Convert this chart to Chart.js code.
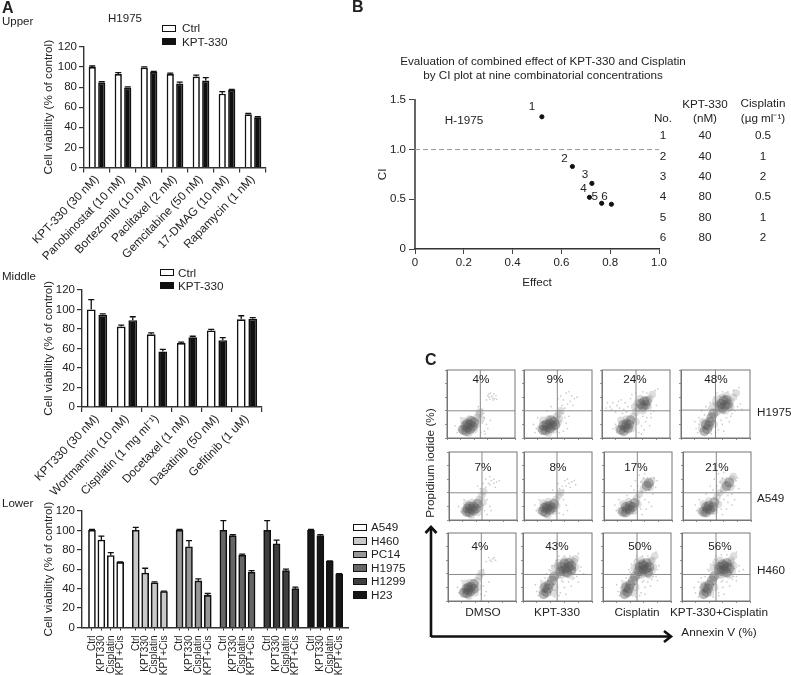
<!DOCTYPE html>
<html><head><meta charset="utf-8">
<script src="https://cdn.jsdelivr.net/npm/chart.js@4/dist/chart.umd.min.js"></script>
<style>
html,body{margin:0;padding:0;background:#fff;width:791px;height:675px;overflow:hidden}
#page{position:relative;width:791px;height:675px;font-family:"Liberation Sans",Arial,sans-serif;color:#222;filter:blur(0.4px)}
canvas{position:absolute}
.t{position:absolute;white-space:nowrap;line-height:1}
.s{position:absolute;box-sizing:border-box;border:1.7px solid #111}
</style></head><body><div id="page"></div>
<script>
/* ---------- Panel A data ---------- */
const upperCats=['KPT-330 (30 nM)','Panobinostat (10 nM)','Bortezomib (10 nM)','Paclitaxel (2 nM)','Gemcitabine (50 nM)','17-DMAG (10 nM)','Rapamycin (1 nM)'];
const upperCtrl=[100,93,99.5,93,90.5,73.5,53];
const upperKpt=[84.5,79.5,95,83.5,86.5,77,50];
const upperCtrlErr=[1,1.5,0.7,1,1.5,2,0.8];
const upperKptErr=[0.8,0.7,0.5,1.5,3,0.8,0.5];
const middleCats=['KPT330 (30 nM)','Wortmannin (10 nM)','Cisplatin (1 mg ml⁻¹)','Docetaxel (1 nM)','Dasatinib (50 nM)','Gefitinib (1 uM)'];
const middleCtrl=[100,82.5,74.5,65.5,78.5,90];
const middleKpt=[94.5,89,57,71.5,68.5,90.5];
const middleCtrlErr=[10,1.5,1.5,1,1,3.5];
const middleKptErr=[1,3.5,2,1,2.5,1];
const lowerLines=['A549','H460','PC14','H1975','H1299','H23'];
const lowerTreatments=['Ctrl','KPT330','Cisplatin','KPT+Cis'];
const lowerA549=[100,90,74,67],lowerA549Err=[1,4,3,0.5];
const lowerH460=[100,56,46,37],lowerH460Err=[3,5,1,0.5];
const lowerPC14=[100,83,48,33],lowerPC14Err=[1,6.5,2,2];
const lowerH1975=[100,94.5,74.5,57],lowerH1975Err=[10,1,1,1.5];
const lowerH1299=[100,86,58.5,40],lowerH1299Err=[10,4,1.5,1.5];
const lowerH23=[100,94.5,68,55],lowerH23Err=[1,1,0.5,0.5];
/* ---------- Panel B data ---------- */
const ciEffect=[0.52,0.645,0.725,0.715,0.765,0.805];
const ciValue=[1.33,0.83,0.66,0.52,0.46,0.45];
const comboNo=['1','2','3','4','5','6'];
const comboKpt=['40','40','40','80','80','80'];
const comboCis=['0.5','1','2','0.5','1','2'];
/* ---------- Panel C data: [dense, medium, fine] x,y pairs in % ---------- */
const h1975Dmso=[
[24,12,28,10,30,15,34,13,34,20,38,17,30,21,27,18,40,23,36,25],
[44,30,47,35,21,13,40,12,44,20,48,38,50,28,25,25,33,28,32,7],
[55,30,58,20,60,14,55,10,52,42,62,60,66,62,70,58,58,56,64,66,72,62,60,62,68,56,18,12,15,8,20,30,12,18,56,6,50,8,64,26,63,57,67,59,69,65,61,65,73,57,52,22,54,36,46,46]];
const h1975Kpt=[
[28,12,32,11,34,16,38,14,38,21,42,18,33,20,29,18,44,24,40,26,46,19],
[48,32,51,36,54,40,24,14,44,12,50,22,52,28,28,26,36,28,36,7],
[60,44,64,50,58,56,70,62,62,66,74,58,68,54,66,68,60,30,62,22,64,14,58,10,52,8,18,14,14,20,20,30,56,48,72,48,78,60,54,62,50,58,40,46,58,36,66,32,26,6,16,8,34,40]];
const h1975Cis=[
[28,12,32,10,34,16,38,14,36,21,40,20,31,19,42,26,60,46,64,49,57,50,66,54,62,54],
[46,32,50,38,24,14,44,14,50,24,70,58,74,64,53,44,68,46,56,58,48,46,28,26,36,28,52,52,60,40],
[60,32,66,30,58,18,62,12,54,8,76,40,80,48,72,36,20,20,16,14,12,46,16,52,22,48,28,56,34,52,38,46,42,58,14,42,8,52,26,44,32,42,6,44,20,38,24,54,44,64,50,66,60,68,66,66,78,70,82,72,72,30,64,24,70,18,58,6,22,8,30,36,36,38]];
const h1975Combo=[
[34,10,38,13,40,18,36,20,42,24,44,30,47,36,60,44,64,48,58,50,68,50,62,55,66,56,56,46],
[30,14,32,24,48,20,52,38,72,54,76,60,54,58,60,40,70,44,46,46,80,66,52,50,64,40,72,46,50,54,60,60,66,62],
[24,8,26,20,26,30,22,14,54,12,60,20,58,26,66,30,72,32,78,40,82,46,86,50,48,60,42,52,36,46,30,40,52,66,60,68,68,68,84,74,76,70,70,24,62,10,44,6,50,8,20,24,34,34,40,44,88,42,74,36]];
const a549Dmso=[
[26,12,30,11,32,16,36,14,36,20,40,17,30,20,27,17,42,24],
[44,30,48,36,51,42,22,14,42,11,46,20,26,24,34,26,33,7,50,26],
[54,48,58,54,62,58,66,54,70,56,60,52,74,58,54,60,66,60,60,64,50,54,46,46,56,30,60,20,62,14,56,8,18,12,14,20,22,30,52,14,68,48,42,50]];
const a549Kpt=[
[28,13,32,11,34,17,38,15,38,21,42,18,33,20,30,18,44,24],
[47,30,51,36,24,14,44,13,48,21,28,25,36,27,35,7,54,40],
[58,44,62,50,66,54,70,56,74,58,56,50,68,48,60,58,64,60,52,46,58,30,62,22,64,14,58,8,18,14,16,22,22,30,76,52,50,54,42,44,52,10]];
const a549Cis=[
[28,12,32,11,34,16,38,15,38,21,42,19,32,19,45,25,63,50,66,54],
[48,32,52,38,24,14,44,13,50,23,28,24,36,27,58,46,70,58,60,56,68,48],
[74,62,56,42,54,56,50,50,58,62,64,62,72,52,76,48,66,44,60,30,66,26,62,16,56,8,72,38,18,14,16,22,22,30,44,44,46,58,40,50,52,66,60,68,78,58,54,16,70,20,34,36]];
const a549Combo=[
[30,12,34,11,36,16,40,15,38,21,44,19,34,19,46,26,64,50,68,55],
[50,34,54,40,26,14,46,13,52,23,30,24,38,28,60,46,72,60,60,56,70,48,74,64],
[56,42,54,56,50,50,58,62,64,62,76,50,78,58,68,44,60,30,66,26,64,16,58,8,72,38,20,14,18,22,24,30,44,44,46,60,40,50,52,68,60,70,80,62,56,16,72,22,34,38,82,46,66,36,76,30]];
const h460Dmso=[
[24,12,28,11,30,16,33,14,34,21,38,18,30,20,27,18,38,25],
[43,30,46,36,49,41,21,14,40,12,44,20,26,26,33,27,31,7],
[52,22,56,14,54,8,60,28,48,10,16,12,14,20,20,30,56,58,62,60,66,62,70,60,60,64,64,58,68,64,52,46]];
const h460Kpt=[
[30,10,34,13,36,18,32,20,38,24,42,30,45,36,58,44,62,48,56,50,66,50,60,55,66,56,70,52,54,44,64,42,70,46],
[28,14,30,24,46,20,50,38,70,60,74,58,52,56,62,40,72,44,46,48,76,62,44,12,56,38,50,52,60,60,76,50,68,38],
[22,8,24,20,26,30,20,14,54,12,60,20,58,28,66,28,72,32,78,36,82,44,84,50,48,60,42,52,38,46,34,40,52,66,60,66,68,66,80,70,74,34,70,22,62,10,46,6,52,8,18,24,32,34,40,44,88,40,80,28,56,30]];
const h460Cis=[
[32,10,36,13,38,18,34,20,40,24,44,30,47,36,56,44,60,46,54,50,64,48,58,54,64,56,68,50,52,44,60,52,66,42],
[30,14,32,24,48,20,52,38,72,60,76,66,50,56,60,40,72,44,46,48,70,58,44,12,52,52,56,60,74,50,56,38,68,38],
[24,8,26,20,28,30,22,14,56,12,62,20,58,28,66,28,72,32,78,36,80,46,82,52,48,62,42,54,38,46,50,66,58,66,66,66,78,72,74,36,70,22,62,10,48,6,54,8,20,24,34,34,40,42,80,30,60,30]];
const h460Combo=[
[32,10,36,13,38,18,34,20,40,24,44,30,47,36,58,44,62,46,56,50,66,50,60,54,66,56,70,48,54,46,62,52,66,42],
[30,14,32,24,48,20,52,38,72,60,76,66,50,56,62,40,74,44,46,48,72,56,42,12,52,52,56,60,76,52,58,38,70,38],
[24,6,26,20,24,28,20,12,18,20,54,12,60,20,58,28,66,28,74,32,80,36,84,44,84,52,48,62,42,54,38,46,50,66,58,68,66,68,80,72,76,36,70,22,62,10,46,6,54,8,28,34,34,36,40,44,80,30,60,30,90,46]];
const flowPanels=[h1975Dmso,h1975Kpt,h1975Cis,h1975Combo,a549Dmso,a549Kpt,a549Cis,a549Combo,h460Dmso,h460Kpt,h460Cis,h460Combo];
const flowPercent=['4%','9%','24%','48%','7%','8%','17%','21%','4%','43%','50%','56%'];
const flowQuadX=[49,49,50,50,48.5,48.5,49,49,49,49.5,50,50];
const flowQuadY=[40,40,40,41,40,40,40,40,39,39,39,39];
const flowRows=['H1975','A549','H460'];
const flowCols=['DMSO','KPT-330','Cisplatin','KPT-330+Cisplatin'];

/* ---------- Layout (page pixels) ---------- */
const FF='"Liberation Sans",Arial,sans-serif', INK='#222', AXIS='#333';
const page=document.getElementById('page');
Chart.defaults.font.family=FF; Chart.defaults.color=INK;
function text(s,x,y,o={}){
  const d=document.createElement('div');d.className='t';d.textContent=s;
  d.style.left=x+'px';d.style.top=y+'px';d.style.fontSize=(o.size||11.7)+'px';
  if(o.weight)d.style.fontWeight=o.weight;
  const tx=o.align==='left'?'0':'-50%';
  d.style.transform=`translate(${tx},-50%)`+(o.rot?` rotate(${o.rot}deg)`:'');
  page.appendChild(d);
}
function swatch(x,y,w,h,fill){
  const d=document.createElement('div');d.className='s';
  d.style.cssText+=`left:${x}px;top:${y}px;width:${w}px;height:${h}px;background:${fill}`;
  page.appendChild(d);
}
function mount(box){
  const c=document.createElement('canvas');c.width=box.w;c.height=box.h;
  c.style.left=box.l+'px';c.style.top=box.t+'px';c.style.width=box.w+'px';c.style.height=box.h+'px';
  page.appendChild(c);return c;
}
function layoutOf(box,a){return{autoPadding:false,padding:{top:a.top-box.t,left:0,right:box.l+box.w-a.right,bottom:0}};}
const fitY=(box,a)=>s=>{s.width=a.left-box.l;};
const fitX=(box,a)=>s=>{s.height=box.t+box.h-a.bottom;};
const errorBars={id:'errorBars',afterDatasetsDraw(ch){
  const c=ch.ctx,y=ch.scales.y;
  ch.data.datasets.forEach((ds,i)=>{
    if(!ds.errors)return;
    ch.getDatasetMeta(i).data.forEach((el,k)=>{
      const v=ds.errors[k],top=y.getPixelForValue(ds.yVals[k]+v);
      c.save();c.strokeStyle='#111';c.lineWidth=1.3;c.beginPath();
      c.moveTo(el.x,el.y);c.lineTo(el.x,top);c.moveTo(el.x-3,top);c.lineTo(el.x+3,top);c.stroke();c.restore();
    });
  });
}};
function valueAxis(box,a){return{min:0,max:120,
  afterFit:fitY(box,a),
  ticks:{stepSize:20,font:{size:11.5},color:INK,padding:2},
  border:{color:AXIS,width:1.4},
  grid:{drawOnChartArea:false,color:AXIS,tickLength:5,lineWidth:1.2},
  title:{display:true,text:'Cell viability (% of control)',font:{size:11.7},color:INK,padding:{top:42,bottom:0}}};}
function groupedBars(box,a,cats,ctrl,kpt,ctrlE,kptE,catPct,barPct){
  new Chart(mount(box),{type:'bar',
    data:{labels:cats,datasets:[
      {label:'Ctrl',data:ctrl,yVals:ctrl,errors:ctrlE,backgroundColor:'#fff',borderColor:'#111',borderWidth:1.7},
      {label:'KPT-330',data:kpt,yVals:kpt,errors:kptE,backgroundColor:'#111',borderColor:'#111',borderWidth:1.7}]},
    options:{responsive:false,animation:false,events:[],layout:layoutOf(box,a),
      categoryPercentage:catPct,barPercentage:barPct,
      plugins:{legend:{display:false},tooltip:{enabled:false}},
      scales:{y:valueAxis(box,a),
        x:{afterFit:fitX(box,a),border:{color:AXIS,width:1.4},
          grid:{drawOnChartArea:false,color:AXIS,tickLength:5,lineWidth:1.2},
          ticks:{autoSkip:false,minRotation:46,maxRotation:46,font:{size:11.8},color:INK,padding:0}}}},
    plugins:[errorBars]});
}
/* Panel A upper */
text('A',2,8,{size:16,weight:'bold',align:'left'});
text('Upper',2,22,{size:11.5,align:'left'});
text('H1975',125,19,{size:11.5});
swatch(162,24.5,14,7,'#fff');swatch(162,38,14,7,'#111');
text('Ctrl',182,27.5,{size:11.7,align:'left'});text('KPT-330',182,42,{size:11.7,align:'left'});
{const box={l:0,t:38,w:300,h:222},a={left:84,top:46,right:266,bottom:167.5};
 groupedBars(box,a,upperCats,upperCtrl,upperKpt,upperCtrlErr,upperKptErr,0.73,0.76);}
/* Panel A middle */
text('Middle',2,277,{size:11.5,align:'left'});
swatch(160,269,14,7,'#fff');swatch(160,282,14,7,'#111');
text('Ctrl',178,272.5,{size:11.7,align:'left'});text('KPT-330',178,286,{size:11.7,align:'left'});
{const box={l:0,t:281,w:300,h:215},a={left:82,top:289,right:262,bottom:407};
 groupedBars(box,a,middleCats,middleCtrl,middleKpt,middleCtrlErr,middleKptErr,0.77,0.76);}
/* Panel A lower */
text('Lower',2,504,{size:11.5,align:'left'});
const lowerFills=['#ffffff','#c9c9c9','#969696','#666666','#3f3f3f','#161616'];
const lowerValues=[lowerA549,lowerH460,lowerPC14,lowerH1975,lowerH1299,lowerH23];
const lowerErrors=[lowerA549Err,lowerH460Err,lowerPC14Err,lowerH1975Err,lowerH1299Err,lowerH23Err];
const lowerSlots=[[0,1,2,3],[4.66,5.66,6.66,7.66],[9.32,10.32,11.32,12.32],[13.98,14.98,15.98,16.98],[18.64,19.64,20.64,21.64],[23.3,24.3,25.3,26.3]];
lowerLines.forEach((n,i)=>{
  const y=523.5+i*13.5;
  swatch(353,y,14,7.5,lowerFills[i]);
  text(n,371,y+3.8,{size:11.7,align:'left'});
});
{const box={l:0,t:502,w:360,h:173},a={left:82,top:510,right:348,bottom:627.5};
 new Chart(mount(box),{type:'bar',
  data:{datasets:lowerLines.map((n,i)=>({label:n,
     data:lowerValues[i].map((v,k)=>({x:lowerSlots[i][k],y:v})),
     yVals:lowerValues[i],errors:lowerErrors[i],
     backgroundColor:lowerFills[i],borderColor:'#111',borderWidth:1.6,barThickness:7,grouped:false}))},
  options:{responsive:false,animation:false,events:[],layout:layoutOf(box,a),
    plugins:{legend:{display:false},tooltip:{enabled:false}},
    scales:{y:valueAxis(box,a),
      x:{type:'linear',offset:false,min:-1.06,max:27.24,afterFit:fitX(box,a),
        afterBuildTicks:s=>{s.ticks=lowerSlots.flat().map(v=>({value:v}));},
        border:{color:AXIS,width:1.4},
        grid:{offset:false,drawOnChartArea:false,color:AXIS,tickLength:3,lineWidth:1},
        ticks:{autoSkip:false,minRotation:90,maxRotation:90,font:{size:10},color:INK,padding:5,
          callback:(v,i)=>lowerTreatments[i%4]}}}},
  plugins:[errorBars]});}

/* Panel B */
text('B',352,7,{size:16,weight:'bold',align:'left'});
text('Evaluation of combined effect of KPT-330 and Cisplatin',543,61);
text('by CI plot at nine combinatorial concentrations',543,75);
text('H-1975',464,120);
const ciOffsets=[[-10,-10],[-8,-8],[-7,-9],[-6,-9],[-7,-7],[-7,-7]];
const ciLabels={id:'ciLabels',afterDatasetsDraw(ch){
  const c=ch.ctx,m=ch.getDatasetMeta(1);
  c.save();c.fillStyle=INK;c.font='11.7px '+FF;c.textAlign='center';c.textBaseline='middle';
  m.data.forEach((el,i)=>c.fillText(comboNo[i],el.x+ciOffsets[i][0],el.y+ciOffsets[i][1]));
  c.restore();
}};
{const box={l:365,t:90,w:310,h:200},a={left:415,top:99,right:659,bottom:249};
 new Chart(mount(box),{type:'scatter',
  data:{datasets:[
    {type:'line',data:[{x:0,y:1},{x:1,y:1}],borderColor:'#999',borderWidth:1,borderDash:[5,3],pointRadius:0},
    {data:ciEffect.map((x,i)=>({x,y:ciValue[i]})),backgroundColor:'#111',borderColor:'#111',pointRadius:2.1}]},
  options:{responsive:false,animation:false,events:[],layout:layoutOf(box,a),
    plugins:{legend:{display:false},tooltip:{enabled:false}},
    scales:{
      y:{min:0,max:1.5,afterFit:fitY(box,a),border:{color:'#666',width:2},
        grid:{drawOnChartArea:false,color:'#444',tickLength:6,lineWidth:1},
        ticks:{stepSize:0.5,font:{size:11.5},color:INK,padding:3,callback:v=>v===0?'0':v.toFixed(1)},
        title:{display:true,text:'CI',font:{size:11.7},color:INK,padding:{top:11,bottom:0}}},
      x:{type:'linear',min:0,max:1,afterFit:fitX(box,a),border:{color:'#333',width:1.4},
        grid:{drawOnChartArea:false,color:'#444',tickLength:5,lineWidth:1},
        ticks:{stepSize:0.2,font:{size:11.5},color:INK,padding:2,callback:v=>v===0?'0':v.toFixed(1)},
        title:{display:true,text:'Effect',font:{size:11.7},color:INK,padding:{top:0,bottom:0}}}}},
  plugins:[ciLabels]});}
text('No.',663,118);
text('KPT-330',705,104);text('(nM)',705,118);
text('Cisplatin',763,103);text('(µg ml⁻¹)',763,118);
const tableRowY=[135,155.5,176,196,216.5,237];
comboNo.forEach((n,i)=>{
  text(n,663,tableRowY[i]);text(comboKpt[i],705,tableRowY[i]);text(comboCis[i],763,tableRowY[i]);
});

/* Panel C */
text('C',425,360,{size:16,weight:'bold',align:'left'});
const flowX=[[447,515],[524,592],[602,670],[681,750],[449,517],[524,592],[604,672],[683,751],[448,516],[523,592],[603,671],[682,750]];
const flowY=[[369.5,437.5],[369.5,437.5],[369.5,437.5],[369.5,437.5],[452,520],[452,520],[452,520],[452,520],[533,601],[533,601],[533,601],[533,601]];
const flowPctX=[481,555,635,716,483,558,636,717,480,557,640,720];
const flowPctY=[379,379,379,379,467,467,467,467,546,546,546,546];
const pairs=f=>{const o=[];for(let i=0;i<f.length;i+=2)o.push({x:f[i],y:f[i+1]});return o;};
const frame={id:'frame',afterDraw(ch){const c=ch.ctx,a=ch.chartArea;c.save();c.strokeStyle='#777';c.lineWidth=1;c.strokeRect(a.left,a.top,a.width,a.height);c.restore();}};
flowPanels.forEach((p,i)=>{
  const a={left:flowX[i][0],right:flowX[i][1],top:flowY[i][0],bottom:flowY[i][1]};
  const box={l:a.left-4,t:a.top-2,w:a.right-a.left+6,h:a.bottom-a.top+6};
  new Chart(mount(box),{type:'scatter',
    data:{datasets:[
      {type:'line',data:[{x:flowQuadX[i],y:0},{x:flowQuadX[i],y:100}],borderColor:'#8a8a8a',borderWidth:1,pointRadius:0,order:0},
      {type:'line',data:[{x:0,y:flowQuadY[i]},{x:100,y:flowQuadY[i]}],borderColor:'#8a8a8a',borderWidth:1,pointRadius:0,order:0},
      {data:pairs(p[2]),backgroundColor:'rgba(120,120,120,.38)',borderWidth:0,pointRadius:0.85,order:3},
      {data:pairs(p[1]),backgroundColor:'rgba(120,120,120,.24)',borderWidth:0,pointRadius:3.8,order:2},
      {data:pairs(p[0]),backgroundColor:'rgba(85,85,85,.4)',borderWidth:0,pointRadius:5,order:1}]},
    options:{responsive:false,animation:false,events:[],layout:layoutOf(box,a),
      plugins:{legend:{display:false},tooltip:{enabled:false}},
      scales:{
        x:{type:'linear',min:0,max:100,afterFit:fitX(box,a),border:{color:'#777',width:1},
          grid:{drawOnChartArea:false,color:'#777',tickLength:2,lineWidth:0.8},ticks:{stepSize:20,display:false}},
        y:{min:0,max:100,afterFit:fitY(box,a),border:{color:'#777',width:1},
          grid:{drawOnChartArea:false,color:'#777',tickLength:2,lineWidth:0.8},ticks:{stepSize:20,display:false}}}},
    plugins:[frame]});
  text(flowPercent[i],flowPctX[i],flowPctY[i],{size:11.7});
});
[483,557,637,719].forEach((x,i)=>text(flowCols[i],x,613,{size:11.8}));
[412,498,570].forEach((y,i)=>text(flowRows[i],757,y,{size:11.7,align:'left'}));
text('Propidium iodide (%)',431,463,{size:11.8,rot:-90});
text('Annexin V (%)',719,633,{size:11.8});
page.insertAdjacentHTML('beforeend','<svg style="position:absolute;left:0;top:0" width="791" height="675"><path d="M431 637V528M431 636.5H669" fill="none" stroke="#111" stroke-width="2.6"/><path d="M425.5 533L431 527L436.5 533M664 631L671 636.5L664 642" fill="none" stroke="#111" stroke-width="2.6"/></svg>');
</script></body></html>
